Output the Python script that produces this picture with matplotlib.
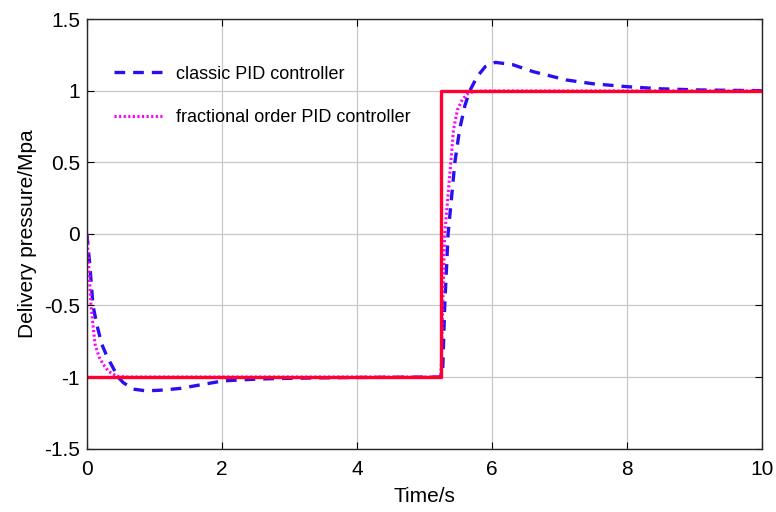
import matplotlib.pyplot as plt
import numpy as np

plt.rcParams['font.family'] = ['Liberation Sans', 'DejaVu Sans']
plt.rcParams['axes.unicode_minus'] = False

# reference pressure (square step)
t_ref = [0, 5.24, 5.24, 10]
p_ref = [-1, -1, 1, 1]

# classic PID response
t_pid = [0, 0.04, 0.06, 0.09, 0.15, 0.22, 0.30, 0.37, 0.46, 0.54, 0.69, 0.88,
         1.1, 1.38, 1.62, 2.02, 2.5, 2.86, 3.8, 4.5, 5.24,
         5.27, 5.30, 5.35, 5.45, 5.52, 5.60, 5.67, 5.78, 5.90, 6.05, 6.3,
         6.61, 7.1, 7.5, 8.0, 8.5, 9.08, 10]
p_pid = [0, -0.2, -0.32, -0.5, -0.64, -0.77, -0.86, -0.92, -1.0, -1.04, -1.085, -1.097,
         -1.092, -1.08, -1.06, -1.027, -1.015, -1.01, -1.004, -1.002, -1.0,
         -0.95, -0.5, 0, 0.5, 0.73, 0.9, 1.0, 1.1, 1.17, 1.2, 1.185,
         1.135, 1.077, 1.05, 1.03, 1.015, 1.007, 1.002]

# fractional order PID response
t_fo = [0, 0.03, 0.06, 0.12, 0.18, 0.24, 0.32, 0.44, 0.6, 5.24,
        5.25, 5.27, 5.30, 5.39, 5.43, 5.49, 5.56, 5.64, 5.72, 5.9, 10]
p_fo = [0, -0.25, -0.5, -0.77, -0.86, -0.91, -0.96, -0.995, -1.0, -1.0,
        -0.9, -0.5, 0, 0.5, 0.73, 0.87, 0.94, 0.98, 0.995, 1.0, 1.0]

fig = plt.figure(figsize=(7.76, 5.12), dpi=100)
ax = fig.add_axes([0.112, 0.124, 0.870, 0.838])

ax.plot(t_pid, p_pid, color='#2a10f0', lw=2.4, ls=(0, (3.2, 2.4)), label='classic PID controller')
ax.plot(t_fo, p_fo, color='#ff00ff', lw=2.2, ls=(0, (0.7, 0.8)), label='fractional order PID controller')
ax.plot(t_ref, p_ref, color='#ff0030', lw=2.4)

ax.set_xlim(0, 10)
ax.set_ylim(-1.5, 1.5)
ax.set_xticks(np.arange(0, 11, 2))
ax.set_yticks([-1.5, -1, -0.5, 0, 0.5, 1, 1.5])
ax.set_yticklabels(['-1.5', '-1', '-0.5', '0', '0.5', '1', '1.5'])
ax.grid(True, color='#c8c8c8', lw=0.9)
ax.tick_params(direction='in', top=True, right=True, labelsize=15, length=5, pad=5)
ax.tick_params(axis='x', pad=8)
for s in ax.spines.values():
    s.set_color('#262626')
    s.set_linewidth(1.0)

ax.set_xlabel('Time/s', fontsize=15, labelpad=6)
ax.set_ylabel('Delivery pressure/Mpa', fontsize=15, labelpad=5)

ax.legend(loc='upper left', bbox_to_anchor=(0.03, 0.909), frameon=False, fontsize=13,
          handlelength=2.7, labelspacing=1.45, handletextpad=0.7, borderaxespad=0)

fig.savefig('out.png', dpi=100)
